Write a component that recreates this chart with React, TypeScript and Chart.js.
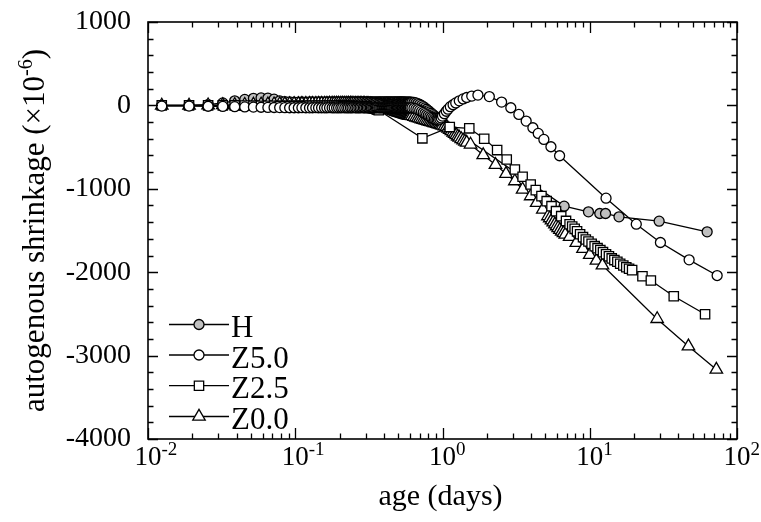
import React, { useEffect, useRef } from "react";
import { Chart, registerables } from "chart.js";

Chart.register(...registerables);

// ---------- data ----------
const earlyAge = [
  0.0124, 0.019, 0.0256, 0.0322, 0.0388, 0.0454, 0.052, 0.0586, 0.0652, 0.0718,
  0.0784, 0.085, 0.0916, 0.0982, 0.105, 0.111, 0.118, 0.125, 0.131, 0.138,
  0.144, 0.151, 0.158, 0.164, 0.171, 0.178, 0.184, 0.191, 0.197, 0.204,
  0.21, 0.217, 0.224, 0.23, 0.237, 0.243, 0.25, 0.257, 0.263, 0.27,
  0.276, 0.283, 0.29, 0.296, 0.303, 0.309, 0.316, 0.323, 0.329, 0.336,
  0.342, 0.349, 0.356, 0.362, 0.369, 0.375, 0.382, 0.389, 0.395, 0.402,
  0.408, 0.415, 0.421, 0.428, 0.435, 0.441, 0.448, 0.454, 0.461, 0.468,
  0.474, 0.481, 0.487, 0.494, 0.5, 0.507, 0.514, 0.52, 0.527, 0.533,
  0.54, 0.547, 0.553, 0.56, 0.566, 0.573, 0.579, 0.586, 0.593, 0.599,
  0.606,
];

const hEarly = [
  0, 0, 10, 30, 55, 72, 85, 90, 88, 75,
  55, 46, 42, 40, 40, 41, 40, 42, 41, 40,
  42, 41, 40, 41, 42, 40, 41, 42, 41, 40,
  42, 41, 40, 41, 42, 41, 40, 41, 42, 40,
  41, 42, 41, 40, 41, 40, 41, 42, 40, 41,
  40, 41, 42, 40, 41, 42, 41, 40, 41, 42,
  40, 41, 42, 41, 40, 41, 42, 40, 41, 40,
  41, 42, 40, 41, 40, 41, 42, 41, 40, 41,
  40, 41, 40, 40, 39, 39, 38, 38, 38, 38,
  38,
];
const hLateAge = [
  0.62, 0.64, 0.66, 0.68, 0.7, 0.72, 0.74, 0.76, 0.78, 0.8,
  0.82, 0.84, 0.86, 0.88, 0.9, 0.92, 0.94, 0.96, 0.98, 1.0,
  6.7, 9.8, 11.7, 12.8, 15.8, 29.6, 62.7,
];
const hLate = [
  38, 35, 30, 22, 12, 0, -14, -30, -46, -62,
  -78, -94, -110, -125, -140, -154, -166, -178, -190, -200,
  -1208, -1276, -1296, -1296, -1336, -1388, -1516,
];

const z50Early = [
  -8, -8, -10, -12, -15, -18, -20, -22, -24, -25,
  -26, -27, -28, -28, -28, -27, -28, -29, -28, -27,
  -28, -28, -29, -28, -27, -28, -28, -29, -28, -28,
  -27, -28, -28, -29, -28, -28, -27, -28, -29, -28,
  -28, -27, -28, -28, -29, -28, -28, -27, -28, -28,
  -29, -28, -28, -27, -28, -28, -29, -28, -27, -28,
  -28, -29, -28, -28, -27, -28, -29, -28, -28, -27,
  -28, -28, -29, -28, -27, -28, -28, -29, -28, -28,
  -27, -28, -29, -28, -28, -27, -28, -29, -29, -29,
  -29,
];
const z50LateAge = [
  0.62, 0.64, 0.66, 0.68, 0.7, 0.72, 0.74, 0.76, 0.78, 0.8,
  0.82, 0.84, 0.86, 0.88, 0.9, 0.92, 0.94, 0.96, 0.98, 1.0,
  1.03, 1.06, 1.09, 1.13, 1.18, 1.23, 1.3, 1.38, 1.46, 1.58, 1.74,
  2.08, 2.52, 2.91, 3.3, 3.7, 4.11, 4.47, 4.88, 5.45, 6.24,
  12.9, 20.7, 30.2, 47.3, 73.3,
];
const z50Late = [
  -30, -35, -42, -50, -60, -72, -85, -98, -110, -122,
  -134, -145, -156, -165, -172, -176, -174, -165, -150, -128,
  -100, -70, -45, -15, 8, 30, 55, 78, 95, 112, 124,
  106, 40, -28, -108, -188, -268, -336, -408, -496, -604,
  -1112, -1424, -1644, -1852, -2040,
];

const z25Early = [
  0, 0, 0, 0, 0, -2, -3, -4, -5, -5,
  -6, -6, -6, -6, -6, -6, -6, -5, -5, -5,
  -5, -5, -5, -5, -5, -5, -5, -5, -5, -5,
  -6, -6, -6, -6, -7, -7, -8, -8, -9, -10,
  -11, -12, -13, -15, -17, -19, -22, -25, -28, -32,
  -36, -40, -45, -51, -58,
];
const z25LateAge = [
  0.73, 1.12, 1.52, 1.92, 2.35, 2.73, 3.1, 3.5, 3.97, 4.3, 4.7, 5.1, 5.5, 5.9, 6.4,
  6.9, 7.3, 7.6, 7.9, 8.2, 8.6, 9.0, 9.4, 9.8, 10.3,
  10.8, 11.3, 11.8, 12.3, 12.9, 13.5, 14.1, 14.7, 15.4, 16.1,
  16.9, 17.7, 18.5, 19.4,
  22.8, 26, 37.2, 60.7,
];
const z25Late = [
  -395, -260, -275, -400, -536, -648, -768, -856, -948, -1016, -1088, -1148, -1208, -1268, -1328,
  -1385, -1425, -1452, -1480, -1510, -1545, -1580, -1608, -1632, -1660,
  -1688, -1712, -1735, -1760, -1785, -1810, -1835, -1855, -1875, -1898,
  -1920, -1940, -1958, -1975,
  -2048, -2100, -2288, -2504,
];

const z00Early = [
  0, 0, 2, 4, 6, 8, 10, 12, 13, 14,
  15, 16, 17, 18, 18, 19, 19, 20, 20, 20,
  21, 21, 21, 21, 22, 22, 22, 22, 22, 22,
  22, 22, 22, 22, 22, 22, 21, 21, 21, 21,
  21, 20, 20, 19, 18, 17, 16, 14, 12, 10,
  8, 5, 2, -1, -4, -8, -12, -16, -20, -24,
  -28, -32, -36, -40, -44, -48, -52, -56, -60, -64,
  -68, -72, -76, -79, -82, -85, -88, -91, -94, -97,
  -100, -103, -106, -109, -112, -114, -116, -118, -120, -122,
  -124,
];
const z00LateAge = [
  0.62, 0.64, 0.66, 0.68, 0.7, 0.72, 0.74, 0.76, 0.78, 0.8,
  0.82, 0.84, 0.86, 0.88, 0.9, 0.92, 0.94, 0.96, 0.98, 1.0,
  1.03, 1.06, 1.09, 1.12, 1.15, 1.18, 1.21, 1.24, 1.27, 1.3,
  1.34, 1.38, 1.42, 1.46,
  1.55, 1.89, 2.29, 2.7, 3.1, 3.5, 3.97, 4.36, 4.8, 5.2,
  5.35, 5.5, 5.65, 5.8, 5.95, 6.1, 6.27, 6.45, 6.63, 6.82,
  7.3, 8.1, 9.0, 10.0, 11.1, 12.2,
  28.7, 46.8, 72.4,
];
const z00Late = [
  -128, -136, -144, -151, -158, -165, -171, -177, -183, -189,
  -195, -200, -205, -210, -215, -220, -225, -230, -235, -241,
  -250, -262, -276, -292, -308, -324, -340, -356, -372, -386,
  -402, -418, -432, -446,
  -468, -596, -712, -820, -908, -1008, -1088, -1168, -1248, -1328,
  -1352, -1378, -1402, -1426, -1448, -1470, -1492, -1512, -1530, -1548,
  -1576, -1648, -1720, -1792, -1860, -1918,
  -2560, -2888, -3168,
];

const seriesNames = ["H", "Z5.0", "Z2.5", "Z0.0"];
const xTickExponents = [-2, -1, 0, 1, 2];
const yMin = -4000;
const yMax = 1000;
const yStep = 1000;
const xTitle = "age (days)";
const yTitleMain = "autogenous shrinkage (\u00d710";
const yTitleSup = "-6";
const yTitleEnd = ")";

// ---------- helpers ----------
const FONT = "'Liberation Serif', 'Times New Roman', Times, serif";

function pts(ages: number[], vals: number[]) {
  return ages.map((a, i) => ({ x: a, y: vals[i] }));
}

type Style = { shape: string; r: number; fill: string };
const styles: Style[] = [
  { shape: "circle", r: 5, fill: "#c0c0c0" },
  { shape: "circle", r: 5, fill: "#ffffff" },
  { shape: "rect", r: 6.6, fill: "#ffffff" },
  { shape: "triangle", r: 7.2, fill: "#ffffff" },
];

function drawMarker(ctx: CanvasRenderingContext2D, s: Style, x: number, y: number) {
  ctx.beginPath();
  if (s.shape === "circle") {
    ctx.arc(x, y, s.r, 0, Math.PI * 2);
  } else if (s.shape === "rect") {
    const h = s.r * Math.SQRT1_2;
    ctx.rect(x - h, y - h, 2 * h, 2 * h);
  } else {
    ctx.moveTo(x, y - s.r);
    ctx.lineTo(x + Math.sin((2 * Math.PI) / 3) * s.r, y + 0.5 * s.r);
    ctx.lineTo(x - Math.sin((2 * Math.PI) / 3) * s.r, y + 0.5 * s.r);
    ctx.closePath();
  }
  ctx.fillStyle = s.fill;
  ctx.fill();
  ctx.lineWidth = 1.3;
  ctx.strokeStyle = "#000";
  ctx.stroke();
}

const decor = {
  id: "decor",
  afterDraw(chart: any) {
    const { ctx, chartArea: a, scales } = chart;
    const xs = scales.x;
    const ys = scales.y;
    ctx.save();
    ctx.strokeStyle = "#000";
    ctx.fillStyle = "#000";

    // frame
    ctx.lineWidth = 1.6;
    ctx.strokeRect(a.left, a.top, a.right - a.left, a.bottom - a.top);

    // x ticks (inward, bottom and top)
    ctx.lineWidth = 1.3;
    const vtick = (x: number, len: number) => {
      ctx.beginPath();
      ctx.moveTo(x, a.bottom);
      ctx.lineTo(x, a.bottom - len);
      ctx.moveTo(x, a.top);
      ctx.lineTo(x, a.top + len);
      ctx.stroke();
    };
    for (let i = 0; i < xTickExponents.length; i++) {
      const e = xTickExponents[i];
      vtick(Math.round(xs.getPixelForValue(Math.pow(10, e))) + 0.5, 11);
      if (i < xTickExponents.length - 1) {
        for (let m = 2; m <= 9; m++) {
          vtick(Math.round(xs.getPixelForValue(m * Math.pow(10, e))) + 0.5, 5.5);
        }
      }
    }
    // y ticks (inward, left and right)
    const htick = (y: number, len: number) => {
      ctx.beginPath();
      ctx.moveTo(a.left, y);
      ctx.lineTo(a.left + len, y);
      ctx.moveTo(a.right, y);
      ctx.lineTo(a.right - len, y);
      ctx.stroke();
    };
    for (let v = yMin; v <= yMax; v += yStep / 5) {
      const major = v % yStep === 0;
      htick(Math.round(ys.getPixelForValue(v)) + 0.5, major ? 10 : 5.5);
    }

    // x tick labels with superscripts
    ctx.textBaseline = "alphabetic";
    for (const e of xTickExponents) {
      const x = xs.getPixelForValue(Math.pow(10, e));
      ctx.font = `27px ${FONT}`;
      const w = ctx.measureText("10").width;
      ctx.textAlign = "left";
      ctx.fillText("10", x - w / 2, 465);
      ctx.font = `19px ${FONT}`;
      ctx.fillText(String(e), x + w / 2, 455);
    }

    // x title
    ctx.font = `30px ${FONT}`;
    ctx.textAlign = "center";
    ctx.fillText(xTitle, (a.left + a.right) / 2 - 2, 505);

    // y title (rotated, with superscript)
    ctx.save();
    ctx.translate(44, (a.top + a.bottom) / 2);
    ctx.rotate(-Math.PI / 2);
    ctx.textAlign = "left";
    ctx.font = `31px ${FONT}`;
    const w1 = ctx.measureText(yTitleMain).width;
    const w3 = ctx.measureText(yTitleEnd).width;
    ctx.font = `20px ${FONT}`;
    const w2 = ctx.measureText(yTitleSup).width;
    const x0 = -(w1 + w2 + w3) / 2;
    ctx.font = `31px ${FONT}`;
    ctx.fillText(yTitleMain, x0, 0);
    ctx.font = `20px ${FONT}`;
    ctx.fillText(yTitleSup, x0 + w1, -12);
    ctx.font = `31px ${FONT}`;
    ctx.fillText(yTitleEnd, x0 + w1 + w2, 0);
    ctx.restore();

    // legend
    const rows = [324.5, 355, 385.7, 416.5];
    for (let i = 0; i < seriesNames.length; i++) {
      const y = rows[i];
      ctx.lineWidth = 1.3;
      ctx.strokeStyle = "#000";
      ctx.beginPath();
      ctx.moveTo(169, y);
      ctx.lineTo(229, y);
      ctx.stroke();
      drawMarker(ctx, styles[i], 199, y);
      ctx.fillStyle = "#000";
      ctx.font = `31px ${FONT}`;
      ctx.textAlign = "left";
      ctx.fillText(seriesNames[i], 231, y + 12.5);
    }
    ctx.restore();
  },
};

export default function App() {
  const ref = useRef<HTMLCanvasElement>(null);
  useEffect(() => {
    const seriesData = [
      [...pts(earlyAge, hEarly), ...pts(hLateAge, hLate)],
      [...pts(earlyAge, z50Early), ...pts(z50LateAge, z50Late)],
      [...pts(earlyAge.slice(0, z25Early.length), z25Early), ...pts(z25LateAge, z25Late)],
      [...pts(earlyAge, z00Early), ...pts(z00LateAge, z00Late)],
    ];
    const drawOrder = [3, 0, 1, 2];
    const datasets = seriesNames.map((name, i) => ({
      label: name,
      data: seriesData[i],
      order: drawOrder[i],
      borderColor: "#000",
      borderWidth: 1.3,
      backgroundColor: styles[i].fill,
      pointStyle: styles[i].shape as any,
      pointRadius: styles[i].r,
      pointBackgroundColor: styles[i].fill,
      pointBorderColor: "#000",
      pointBorderWidth: 1.3,
      tension: 0,
      fill: false,
    }));
    const chart = new Chart(ref.current as HTMLCanvasElement, {
      type: "line",
      data: { datasets },
      options: {
        responsive: false,
        animation: false,
        devicePixelRatio: 1,
        events: [],
        layout: { padding: { top: 22, right: 24, left: 0, bottom: 0 } },
        plugins: { legend: { display: false }, tooltip: { enabled: false } },
        scales: {
          x: {
            type: "logarithmic",
            min: 0.01,
            max: 100,
            grid: { display: false, drawTicks: false },
            border: { display: false },
            ticks: { display: false },
            afterFit: (s: any) => {
              s.height = 83;
              s.paddingLeft = 0;
              s.paddingRight = 0;
            },
          },
          y: {
            type: "linear",
            min: yMin,
            max: yMax,
            grid: { display: false, drawTicks: false },
            border: { display: false },
            ticks: {
              stepSize: yStep,
              padding: 17,
              color: "#000",
              font: { family: FONT, size: 28 },
              callback: (v: any) => String(v),
            },
            afterFit: (s: any) => {
              s.width = 148;
              s.paddingTop = 0;
              s.paddingBottom = 0;
            },
          },
        },
      },
      plugins: [decor],
    } as any);
    return () => chart.destroy();
  }, []);
  return (
    <div style={{ position: "fixed", left: 0, top: 0, width: 761, height: 522, background: "#fff" }}>
      <canvas ref={ref} width={761} height={522} style={{ display: "block", width: 761, height: 522 }} />
    </div>
  );
}
